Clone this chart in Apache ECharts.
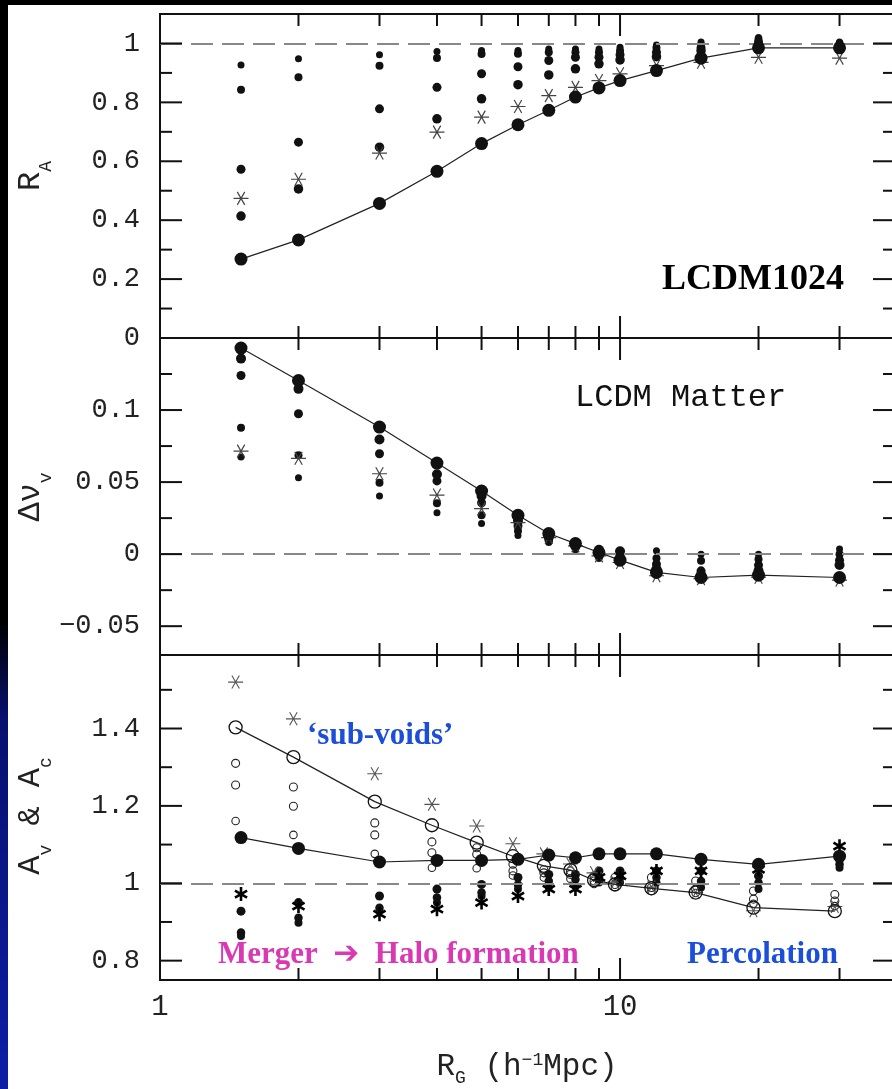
<!DOCTYPE html>
<html>
<head>
<meta charset="utf-8">
<script src="https://cdn.jsdelivr.net/npm/echarts@6/dist/echarts.min.js"></script>
<style>
  html, body { margin: 0; padding: 0; background: #fff; }
  #chart { width: 892px; height: 1089px; }
</style>
</head>
<body>
<div id="chart"></div>
<script>
// smoothing radius R_G (h^-1 Mpc)
const rg = [1.5, 2, 3, 4, 5, 6, 7, 8, 9, 10, 12, 15, 20, 30];
// open symbols in the bottom panel sit a little to the left
const rgOpen = [1.46, 1.95, 2.93, 3.9, 4.88, 5.85, 6.83, 7.8, 8.78, 9.75, 11.7, 14.6, 19.5, 29.3];

// --- panel 1: R_A ---
const raMain = [0.268, 0.333, 0.457, 0.566, 0.660, 0.724, 0.773, 0.818, 0.849, 0.874, 0.908, 0.950, 0.985, 0.985];
const raStar = [0.474, 0.539, 0.628, 0.699, 0.750, 0.786, 0.823, 0.851, 0.874, 0.897, 0.925, 0.936, 0.953, 0.950];
const raDot1 = [0.414, 0.506, 0.648, 0.744, 0.812, 0.860, 0.893, 0.914, 0.931, 0.944, 0.955, 0.975, 0.995, 0.990];
const raDot2 = [0.573, 0.665, 0.778, 0.851, 0.897, 0.921, 0.942, 0.953, 0.953, 0.962, 0.970, 0.985, 1.005, 0.995];
const raDot3 = [0.843, 0.885, 0.924, 0.951, 0.964, 0.965, 0.970, 0.970, 0.970, 0.975, 0.985, 0.995, 1.015, 1.000];
const raDot4 = [0.927, 0.948, 0.962, 0.973, 0.976, 0.976, 0.981, 0.981, 0.981, 0.987, 0.995, 1.005, 1.020, 1.005];

// --- panel 2: delta nu_v ---
const dnMain = [0.143, 0.1205, 0.0882, 0.0632, 0.0438, 0.027, 0.0143, 0.0073, 0.0011, -0.0042, -0.0127, -0.0162, -0.0146, -0.0162];
const dnStar = [0.0715, 0.0665, 0.0558, 0.041, 0.0316, 0.0219, 0.0115, 0.0057, -0.0012, -0.0058, -0.015, -0.017, -0.016, -0.018];
const dnDot1 = [0.1357, 0.1147, 0.0796, 0.0554, 0.0404, 0.023, 0.012, 0.006, 0.003, 0.002, -0.0104, -0.0143, -0.0116, -0.0076];
const dnDot2 = [0.124, 0.0974, 0.0697, 0.0508, 0.0357, 0.0196, 0.0105, 0.005, 0.0, -0.001, -0.0069, -0.0116, -0.0076, -0.0042];
const dnDot3 = [0.0877, 0.0686, 0.0496, 0.0353, 0.027, 0.0161, 0.009, 0.004, -0.002, -0.003, -0.0028, -0.0046, -0.0035, 0.0];
const dnDot4 = [0.0674, 0.053, 0.0404, 0.0288, 0.0212, 0.013, 0.008, 0.003, -0.003, -0.0055, 0.0023, 0.0, 0.0, 0.0035];

// --- panel 3: A_v & A_c ---
const avOpenMain = [1.403, 1.326, 1.211, 1.150, 1.105, 1.070, 1.045, 1.034, 1.008, 0.997, 0.987, 0.976, 0.937, 0.928];
const acFillMain = [1.118, 1.090, 1.055, 1.059, 1.059, 1.062, 1.073, 1.066, 1.076, 1.076, 1.076, 1.062, 1.049, 1.070];
const avStar = [1.520, 1.425, 1.283, 1.204, 1.148, 1.102, 1.076, 1.050, 1.027, 1.003, 0.990, 0.976, 0.929, 0.940];
const acStar = [0.972, 0.941, 0.920, 0.933, 0.950, 0.967, 0.985, 0.985, 1.015, 1.019, 1.032, 1.032, 1.036, 1.096];
const avOpen1 = [1.310, 1.249, 1.156, 1.107, 1.092, 1.049, 1.035, 1.032, 1.019, 1.015, 1.015, 1.006, 0.980, 0.971];
const avOpen2 = [1.254, 1.199, 1.125, 1.079, 1.075, 1.032, 1.027, 1.023, 1.006, 0.997, 0.989, 0.985, 0.959, 0.954];
const avOpen3 = [1.161, 1.125, 1.076, 1.040, 1.039, 1.020, 1.015, 1.012, 0.998, 0.990, 0.980, 0.975, 0.947, 0.941];
const acFill1 = [0.928, 0.950, 0.967, 0.985, 0.997, 1.015, 1.023, 1.023, 1.032, 1.032, 1.032, 1.032, 1.019, 1.062];
const acFill2 = [0.873, 0.911, 0.937, 0.963, 0.976, 0.997, 1.006, 1.010, 1.015, 1.015, 1.015, 1.006, 1.002, 1.049];
const acFill3 = [0.864, 0.898, 0.929, 0.950, 0.967, 0.985, 0.989, 0.993, 1.002, 1.002, 1.002, 0.989, 0.985, 1.040];

// axes / ticks
const xRange = [1, 39.6];
const xTicks = [1, 2, 3, 4, 5, 6, 7, 8, 9, 10, 20, 30];
const xMajorTicks = [1, 10];
const xLabelVals = [1, 10];
const xLabelText = ['1', '10'];

const p1Range = [0, 1.1];
const p1Major = [0, 0.2, 0.4, 0.6, 0.8, 1];
const p1Minor = [0.1, 0.3, 0.5, 0.7, 0.9];
const p1LabelVals = [0, 0.2, 0.4, 0.6, 0.8, 1];
const p1LabelText = ['0', '0.2', '0.4', '0.6', '0.8', '1'];

const p2Range = [-0.07, 0.15];
const p2Major = [-0.05, 0, 0.05, 0.1, 0.15];
const p2Minor = [-0.025, 0.025, 0.075, 0.125];
const p2LabelVals = [-0.05, 0, 0.05, 0.1];
const p2LabelText = ['\u22120.05', '0', '0.05', '0.1'];

const p3Range = [0.75, 1.59];
const p3Major = [0.8, 1, 1.2, 1.4];
const p3Minor = [0.9, 1.1, 1.3, 1.5];
const p3LabelVals = [0.8, 1, 1.2, 1.4];
const p3LabelText = ['0.8', '1', '1.2', '1.4'];

const refY = [1, 0, 1];

const mono = "'Liberation Mono', 'DejaVu Sans Mono', monospace";
const serif = "'Liberation Serif', 'DejaVu Serif', serif";
const ink = '#111';
const blue = '#1b4fd9';
const magenta = '#d93ab3';
const starPath = 'path://M0,7L14,7M3.5,0.94L10.5,13.06M3.5,13.06L10.5,0.94';
const boldStarPath = 'path://M7,0L7,14M0.94,3.5L13.06,10.5M0.94,10.5L13.06,3.5';

const chart = echarts.init(document.getElementById('chart'));

const pts = (xs, ys) => xs.map((x, i) => [x, ys[i]]);
const on = gi => ({ xAxisIndex: gi, yAxisIndex: gi });

function pickLabel(vals, texts) {
  return v => {
    const k = vals.findIndex(t => Math.abs(t - v) < 1e-7 * Math.max(1, Math.abs(t)));
    return k >= 0 ? texts[k] : '';
  };
}

function yAxis(gi, range, step, vals, texts) {
  return {
    type: 'value', gridIndex: gi, min: range[0], max: range[1], interval: step,
    axisLine: { show: false }, axisTick: { show: false }, splitLine: { show: false },
    axisLabel: { formatter: pickLabel(vals, texts), fontFamily: mono, fontSize: 27, color: '#222', margin: 20 }
  };
}

function refLine(v) {
  return {
    silent: true, symbol: ['none', 'none'], label: { show: false }, animation: false,
    lineStyle: { color: '#888', width: 1.8, type: [22, 9] },
    data: [{ yAxis: v }]
  };
}

// frame ticks on all four sides, placed through the axes
function frameTicks(gi, yr, yMajor, yMinor) {
  return {
    type: 'custom', ...on(gi), silent: true, clip: false, z: 10,
    data: [[xRange[0], yr[0]]],
    renderItem: (params, api) => {
      const kids = [];
      const seg = (a, b) => kids.push({
        type: 'line', shape: { x1: a[0], y1: a[1], x2: b[0], y2: b[1] },
        style: { stroke: ink, lineWidth: 2 }
      });
      xTicks.forEach(v => {
        const len = xMajorTicks.includes(v) ? 22 : 12;
        const b = api.coord([v, yr[0]]);
        const t = api.coord([v, yr[1]]);
        seg(b, [b[0], b[1] - len]);
        seg(t, [t[0], t[1] + len]);
      });
      const yt = (list, len) => list.forEach(v => {
        const l = api.coord([xRange[0], v]);
        const r = api.coord([xRange[1], v]);
        seg(l, [l[0] + len, l[1]]);
        seg(r, [r[0] - len, r[1]]);
      });
      yt(yMajor, 22);
      yt(yMinor, 12);
      return { type: 'group', children: kids };
    }
  };
}

const dot = (gi, xs, ys, size) => ({
  type: 'scatter', ...on(gi), data: pts(xs, ys), symbol: 'circle', symbolSize: size,
  itemStyle: { color: ink, opacity: 1 }, z: 3
});
const ring = (gi, xs, ys, size) => ({
  type: 'scatter', ...on(gi), data: pts(xs, ys), symbol: 'circle', symbolSize: size,
  itemStyle: { color: 'rgba(255,255,255,0)', borderColor: '#222', borderWidth: 1.1, opacity: 1 }, z: 3
});
const stars = (gi, xs, ys, path, size, color, width) => ({
  type: 'scatter', ...on(gi), data: pts(xs, ys), symbol: path, symbolSize: size, symbolKeepAspect: true,
  itemStyle: { color: 'rgba(0,0,0,0)', borderColor: color, borderWidth: width, opacity: 1 }, z: 4
});
const mainLine = (gi, xs, ys, filled, ref) => {
  const s = {
    type: 'line', ...on(gi), data: pts(xs, ys), symbol: 'circle', symbolSize: 13, z: 5,
    itemStyle: filled ? { color: ink, opacity: 1 } : { color: 'rgba(255,255,255,0)', borderColor: ink, borderWidth: 1.3, opacity: 1 },
    lineStyle: { color: '#222', width: 1.2 }
  };
  if (ref !== undefined) s.markLine = refLine(ref);
  return s;
};

const yName = (cx, cy, text) => ({
  type: 'text', x: cx, y: cy, rotation: Math.PI / 2, z: 50,
  style: {
    text, align: 'center', verticalAlign: 'middle', fill: '#222',
    rich: {
      m: { fontFamily: mono, fontSize: 32, verticalAlign: 'top', fill: '#222' },
      s: { fontFamily: mono, fontSize: 18, verticalAlign: 'top', padding: [22, 0, 0, 0], fill: '#222' }
    }
  }
});
const note = (x, y, text, size, color, family, weight) => ({
  type: 'text', x, y, z: 50,
  style: { text, fontFamily: family, fontSize: size, fontWeight: weight, fill: color, align: 'left', verticalAlign: 'middle' }
});

const grids = [
  { left: 160, top: 14, width: 735, height: 324 },
  { left: 160, top: 338, width: 735, height: 317 },
  { left: 160, top: 655, width: 735, height: 325 }
].map(g => Object.assign(g, {
  show: true, borderColor: ink, borderWidth: 2, backgroundColor: 'transparent',
  containLabel: false, outerBoundsMode: 'none'
}));

const xAxes = [0, 1, 2].map(i => ({
  type: 'log', gridIndex: i, min: xRange[0], max: xRange[1], logBase: 10,
  axisLine: { show: false }, axisTick: { show: false }, splitLine: { show: false },
  minorTick: { show: false }, minorSplitLine: { show: false },
  axisLabel: {
    show: i === 2, formatter: pickLabel(xLabelVals, xLabelText),
    fontFamily: mono, fontSize: 29, color: '#222', margin: 13
  }
}));

chart.setOption({
  animation: false,
  backgroundColor: '#fff',
  grid: grids,
  xAxis: xAxes,
  yAxis: [
    yAxis(0, p1Range, 0.1, p1LabelVals, p1LabelText),
    yAxis(1, p2Range, 0.01, p2LabelVals, p2LabelText),
    yAxis(2, p3Range, 0.05, p3LabelVals, p3LabelText)
  ],
  series: [
    // panel 1
    dot(0, rg, raDot4, 7), dot(0, rg, raDot3, 8), dot(0, rg, raDot2, 9), dot(0, rg, raDot1, 9.5),
    stars(0, rg, raStar, starPath, 15, '#444', 1.2),
    mainLine(0, rg, raMain, true, refY[0]),
    frameTicks(0, p1Range, p1Major, p1Minor),
    // panel 2
    dot(1, rg, dnDot4, 7), dot(1, rg, dnDot3, 8), dot(1, rg, dnDot2, 9), dot(1, rg, dnDot1, 10),
    stars(1, rg, dnStar, starPath, 15, '#444', 1.2),
    mainLine(1, rg, dnMain, true, refY[1]),
    frameTicks(1, p2Range, p2Major, p2Minor),
    // panel 3
    ring(2, rgOpen, avOpen1, 8), ring(2, rgOpen, avOpen2, 8), ring(2, rgOpen, avOpen3, 7.5),
    dot(2, rg, acFill1, 9), dot(2, rg, acFill2, 8.5), dot(2, rg, acFill3, 8),
    stars(2, rgOpen, avStar, starPath, 15, '#555', 1.1),
    stars(2, rg, acStar, boldStarPath, 14, '#000', 2.6),
    mainLine(2, rgOpen, avOpenMain, false, refY[2]),
    mainLine(2, rg, acFillMain, true),
    frameTicks(2, p3Range, p3Major, p3Minor)
  ],
  graphic: [
    { type: 'rect', shape: { x: 0, y: 0, width: 892, height: 5 }, style: { fill: '#000' }, z: 100 },
    {
      type: 'rect', shape: { x: 0, y: 0, width: 8, height: 1089 }, z: 100,
      style: {
        fill: new echarts.graphic.LinearGradient(0, 0, 0, 1, [
          { offset: 0, color: '#000' }, { offset: 0.57, color: '#000' },
          { offset: 0.66, color: '#07106e' }, { offset: 1, color: '#0c1fa6' }
        ])
      }
    },
    yName(35, 176, '{m|R}{s|A}'),
    yName(35, 497, '{m|\u0394\u03bd}{s|v}'),
    yName(35, 816, '{m|A}{s|v}{m| & A}{s|c}'),
    {
      type: 'text', x: 527, y: 1045, z: 50,
      style: {
        text: '{m|R}{s|G}{m| (h}{p|\u22121}{m|Mpc)}', align: 'center', verticalAlign: 'top', fill: '#222',
        rich: {
          m: { fontFamily: mono, fontSize: 31, verticalAlign: 'top', padding: [6, 0, 0, 0], fill: '#222' },
          s: { fontFamily: mono, fontSize: 18, verticalAlign: 'top', padding: [24, 0, 0, 0], fill: '#222' },
          p: { fontFamily: mono, fontSize: 18, verticalAlign: 'top', padding: [6, 0, 0, 0], fill: '#222' }
        }
      }
    },
    note(662, 280, 'LCDM1024', 36, '#000', serif, 'bold'),
    note(575, 398, 'LCDM Matter', 32, '#111', mono, 'normal'),
    note(307, 736, '\u2018sub-voids\u2019', 31, blue, serif, 'bold'),
    note(218, 955, 'Merger\u2002\u2794\u2002Halo formation', 31, magenta, "'Liberation Serif', 'DejaVu Sans', serif", 'bold'),
    note(687, 955, 'Percolation', 31, blue, serif, 'bold')
  ]
});
</script>
</body>
</html>
